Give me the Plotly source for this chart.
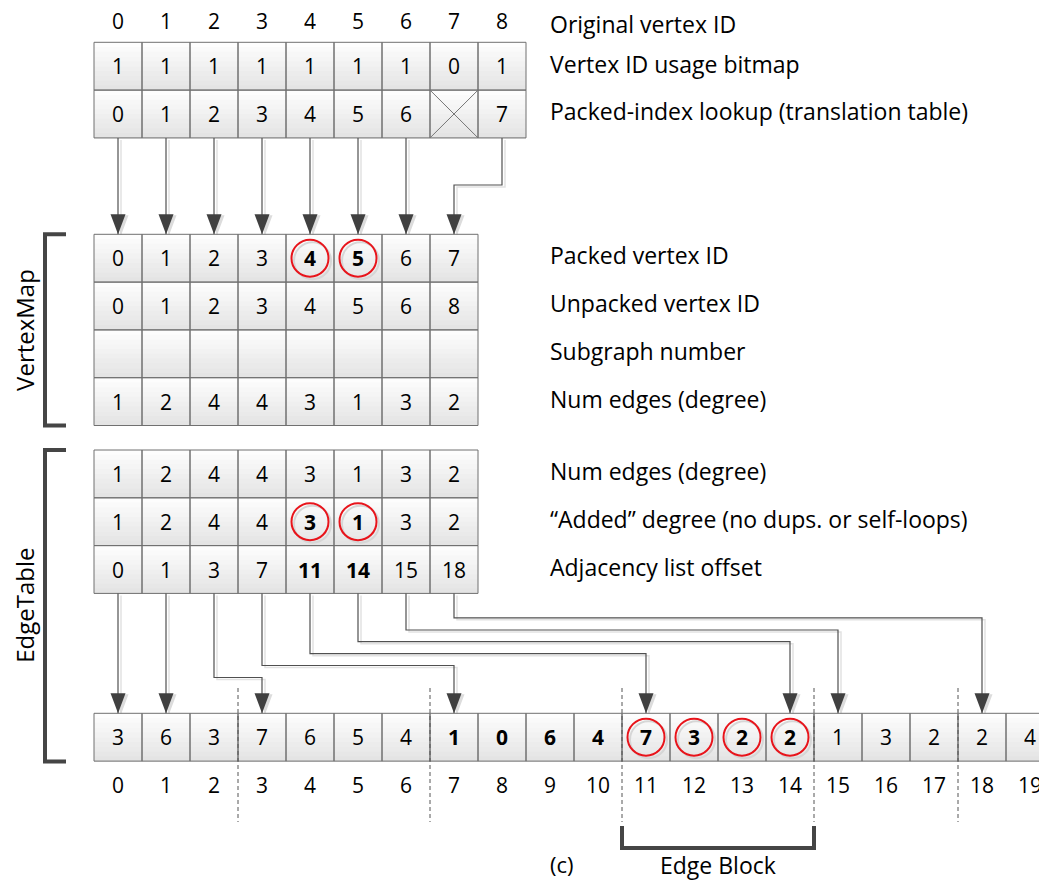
import plotly.graph_objects as go

# ---------------- data ----------------
orig_ids = [0, 1, 2, 3, 4, 5, 6, 7, 8]
usage_bitmap = [1, 1, 1, 1, 1, 1, 1, 0, 1]
packed_lookup = [0, 1, 2, 3, 4, 5, 6, None, 7]

packed_ids = [0, 1, 2, 3, 4, 5, 6, 7]
unpacked_ids = [0, 1, 2, 3, 4, 5, 6, 8]
subgraph_nums = ["", "", "", "", "", "", "", ""]
num_edges = [1, 2, 4, 4, 3, 1, 3, 2]
added_degree = [1, 2, 4, 4, 3, 1, 3, 2]
adj_offsets = [0, 1, 3, 7, 11, 14, 15, 18]

adjacency = [3, 6, 3, 7, 6, 5, 4, 1, 0, 6, 4, 7, 3, 2, 2, 1, 3, 2, 2, 4]
adj_index = list(range(20))
subgraph_bounds = [3, 7, 11, 15, 18]
edge_block = [11, 14]

circled_packed = [4, 5]
circled_added = [4, 5]
bold_offsets = [4, 5]
bold_adj = list(range(7, 15))
circled_adj = [11, 12, 13, 14]

top_labels = ["Original vertex ID", "Vertex ID usage bitmap",
              "Packed-index lookup (translation table)"]
vm_labels = ["Packed vertex ID", "Unpacked vertex ID", "Subgraph number",
             "Num edges (degree)"]
et_labels = ["Num edges (degree)", "\u201cAdded\u201d degree (no dups. or self-loops)",
             "Adjacency list offset"]

# ---------------- layout geometry ----------------
W, H = 1047, 888
PAGE_OFF = 8          # browser default body margin
FIG_W = W - PAGE_OFF
FIG_H = H - 2 * PAGE_OFF
X0 = 94.0
CW = 48.0
RH = 47.8
FONT = "'Open Sans', 'Noto Sans', sans-serif"
NUM_SIZE = 21
LBL_SIZE = 23
BORDER = "#707070"
DARK = "#404040"
RED = "#e8141b"
LBL_X = 549

def cx(i):
    return X0 + CW * (i + 0.5)

shapes = []
annos = []

def text(x, y, s, size=NUM_SIZE, bold=False, anchor="center", color="black", angle=0, height=None):
    if bold:
        s = "<b>%s</b>" % s
    a = dict(x=x, y=y, text=s, showarrow=False, xref="x", yref="y",
             xanchor=anchor, yanchor="middle", textangle=angle, borderpad=0,
             font=dict(family=FONT, size=size, color=color))
    if height:
        a["height"] = height
    annos.append(a)

def gradient_row(x0, x1, y0, y1, n=10):
    for k in range(n):
        t = k / (n - 1)
        c = int(round(253 - (253 - 228) * t))
        col = "rgb(%d,%d,%d)" % (c, c, c)
        ya = y0 + (y1 - y0) * k / n
        yb = y0 + (y1 - y0) * (k + 1) / n
        shapes.append(dict(type="rect", xref="x", yref="y", x0=x0, x1=x1,
                           y0=ya, y1=yb + 0.6, fillcolor=col,
                           line=dict(width=0), layer="below"))

def table(y_top, rows, bold=None, rh=RH, cw=CW, x0=X0):
    bold = bold or {}
    ncols = len(rows[0])
    for r, row in enumerate(rows):
        ya = y_top + r * rh
        gradient_row(x0, x0 + ncols * cw, ya, ya + rh)
        for c, v in enumerate(row):
            shapes.append(dict(type="rect", xref="x", yref="y",
                               x0=x0 + c * cw, x1=x0 + (c + 1) * cw,
                               y0=ya, y1=ya + rh,
                               line=dict(color=BORDER, width=1)))
            if v is None:
                shapes.append(dict(type="line", xref="x", yref="y",
                                   x0=x0 + c * cw, x1=x0 + (c + 1) * cw,
                                   y0=ya, y1=ya + rh, line=dict(color="#777", width=1)))
                shapes.append(dict(type="line", xref="x", yref="y",
                                   x0=x0 + c * cw, x1=x0 + (c + 1) * cw,
                                   y0=ya + rh, y1=ya, line=dict(color="#777", width=1)))
                continue
            if v == "":
                continue
            text(x0 + (c + 0.5) * cw, ya + rh / 2, str(v), bold=(r, c) in bold)

def circle(x, y, r=18.5):
    shapes.append(dict(type="circle", xref="x", yref="y", x0=x - r + 2.5, x1=x + r + 2.5,
                       y0=y - r + 2.5, y1=y + r + 2.5, line=dict(color="#d6d6d6", width=2)))
    shapes.append(dict(type="circle", xref="x", yref="y", x0=x - r, x1=x + r,
                       y0=y - r, y1=y + r, line=dict(color=RED, width=2)))

def arrow_path(pts, tip_y):
    sp = " ".join(("M" if k == 0 else "L") + " %.1f,%.1f" % (px + 3, py + 2)
                  for k, (px, py) in enumerate(pts))
    shapes.append(dict(type="path", xref="x", yref="y", path=sp,
                       line=dict(color="#e2e2e2", width=1.5), layer="below"))
    p = " ".join(("M" if k == 0 else "L") + " %.1f,%.1f" % (px, py)
                 for k, (px, py) in enumerate(pts))
    shapes.append(dict(type="path", xref="x", yref="y", path=p,
                       line=dict(color="#505050", width=1.2)))
    x = pts[-1][0]
    hw, hh = 7.5, 20
    shapes.append(dict(type="path", xref="x", yref="y",
                       path="M %.1f,%.1f L %.1f,%.1f L %.1f,%.1f Z" % (
                           x - hw + 3, tip_y - hh + 1, x + hw + 3, tip_y - hh + 1, x + 3, tip_y + 1),
                       fillcolor="#dcdcdc", line=dict(width=0)))
    shapes.append(dict(type="path", xref="x", yref="y",
                       path="M %.1f,%.1f L %.1f,%.1f L %.1f,%.1f Z" % (
                           x - hw, tip_y - hh, x + hw, tip_y - hh, x, tip_y),
                       fillcolor=DARK, line=dict(width=0)))

# ---------------- top section ----------------
TOP_Y = 42.3
for i, v in enumerate(orig_ids):
    text(cx(i), 21, str(v), height=24)
table(TOP_Y, [usage_bitmap, packed_lookup])
text(LBL_X, 23.5, top_labels[0], size=LBL_SIZE, anchor="left")
text(LBL_X, TOP_Y + RH * 0.5 - 2, top_labels[1], size=LBL_SIZE, anchor="left")
text(LBL_X, TOP_Y + RH * 1.5 - 3, top_labels[2], size=LBL_SIZE, anchor="left")

# ---------------- VertexMap ----------------
VM_Y = 234.3
top_bottom = TOP_Y + 2 * RH
for i, p in enumerate(packed_lookup):
    if p is None:
        continue
    if p == i:
        pts = [(cx(i), top_bottom), (cx(p), VM_Y)]
    else:
        pts = [(cx(i), top_bottom), (cx(i), 185), (cx(p), 185), (cx(p), VM_Y)]
    arrow_path(pts, VM_Y)

vm_bold = {(0, c) for c in circled_packed}
table(VM_Y, [packed_ids, unpacked_ids, subgraph_nums, num_edges], bold=vm_bold)
for c in circled_packed:
    circle(cx(c), VM_Y + RH / 2)
for r, lab in enumerate(vm_labels):
    text(LBL_X, VM_Y + RH * (r + 0.5) - 3, lab, size=LBL_SIZE, anchor="left")

vm_bot = VM_Y + 4 * RH
shapes.append(dict(type="path", xref="x", yref="y",
                   path="M 66,%.1f L 45,%.1f L 45,%.1f L 66,%.1f" % (VM_Y, VM_Y, vm_bot, vm_bot),
                   line=dict(color="#454545", width=4)))
text(25, (VM_Y + vm_bot) / 2, "VertexMap", size=24, angle=-90)

# ---------------- EdgeTable ----------------
ET_Y = 450.0
et_bold = {(1, c) for c in circled_added} | {(2, c) for c in bold_offsets}
table(ET_Y, [num_edges, added_degree, adj_offsets], bold=et_bold)
for c in circled_added:
    circle(cx(c), ET_Y + RH * 1.5)
for r, lab in enumerate(et_labels):
    text(LBL_X, ET_Y + RH * (r + 0.5) - 3, lab, size=LBL_SIZE, anchor="left")

ADJ_Y = 713.3
ADJ_H = 47.8
et_bottom = ET_Y + 3 * RH
elbow_levels = {2: 677.5, 3: 665.5, 4: 653.7, 5: 641.7, 6: 630.0, 7: 617.8}
for j, off in enumerate(adj_offsets):
    if off == j:
        pts = [(cx(j), et_bottom), (cx(off), ADJ_Y)]
    else:
        ey = elbow_levels[j]
        pts = [(cx(j), et_bottom), (cx(j), ey), (cx(off), ey), (cx(off), ADJ_Y)]
    arrow_path(pts, ADJ_Y)

et_br_bot = 761.5
shapes.append(dict(type="path", xref="x", yref="y",
                   path="M 66,%.1f L 45,%.1f L 45,%.1f L 66,%.1f" % (ET_Y, ET_Y, et_br_bot, et_br_bot),
                   line=dict(color="#454545", width=4)))
text(25, (ET_Y + et_br_bot) / 2, "EdgeTable", size=24, angle=-90)

# ---------------- adjacency array ----------------
gradient_row(X0, X0 + CW * len(adjacency), ADJ_Y, ADJ_Y + ADJ_H)
for i, v in enumerate(adjacency):
    shapes.append(dict(type="rect", xref="x", yref="y",
                       x0=X0 + i * CW, x1=X0 + (i + 1) * CW,
                       y0=ADJ_Y, y1=ADJ_Y + ADJ_H, line=dict(color=BORDER, width=1)))
    text(cx(i), ADJ_Y + ADJ_H / 2, str(v), bold=i in bold_adj)
    text(cx(i), 785, str(adj_index[i]))
for i in circled_adj:
    circle(cx(i), ADJ_Y + ADJ_H / 2)

for b in subgraph_bounds:
    xb = X0 + CW * b
    shapes.append(dict(type="line", xref="x", yref="y", x0=xb, x1=xb, y0=688, y1=822,
                       line=dict(color="#555", width=1, dash="4px,3px")))

eb0 = X0 + CW * edge_block[0]
eb1 = X0 + CW * (edge_block[1] + 1)
shapes.append(dict(type="path", xref="x", yref="y",
                   path="M %.1f,826 L %.1f,848 L %.1f,848 L %.1f,826" % (eb0, eb0, eb1, eb1),
                   line=dict(color="#454545", width=4)))
text((eb0 + eb1) / 2, 865, "Edge Block", size=LBL_SIZE)
text(562, 864, "(c)", size=22)

fig = go.Figure()
fig.update_layout(
    width=FIG_W, height=FIG_H, autosize=False,
    margin=dict(l=0, r=0, t=0, b=0),
    paper_bgcolor="white", plot_bgcolor="white",
    xaxis=dict(range=[PAGE_OFF, PAGE_OFF + FIG_W], visible=False, fixedrange=True),
    yaxis=dict(range=[PAGE_OFF + FIG_H, PAGE_OFF], visible=False, fixedrange=True),
    shapes=shapes, annotations=annos, showlegend=False,
)
fig.write_html("out.html")
